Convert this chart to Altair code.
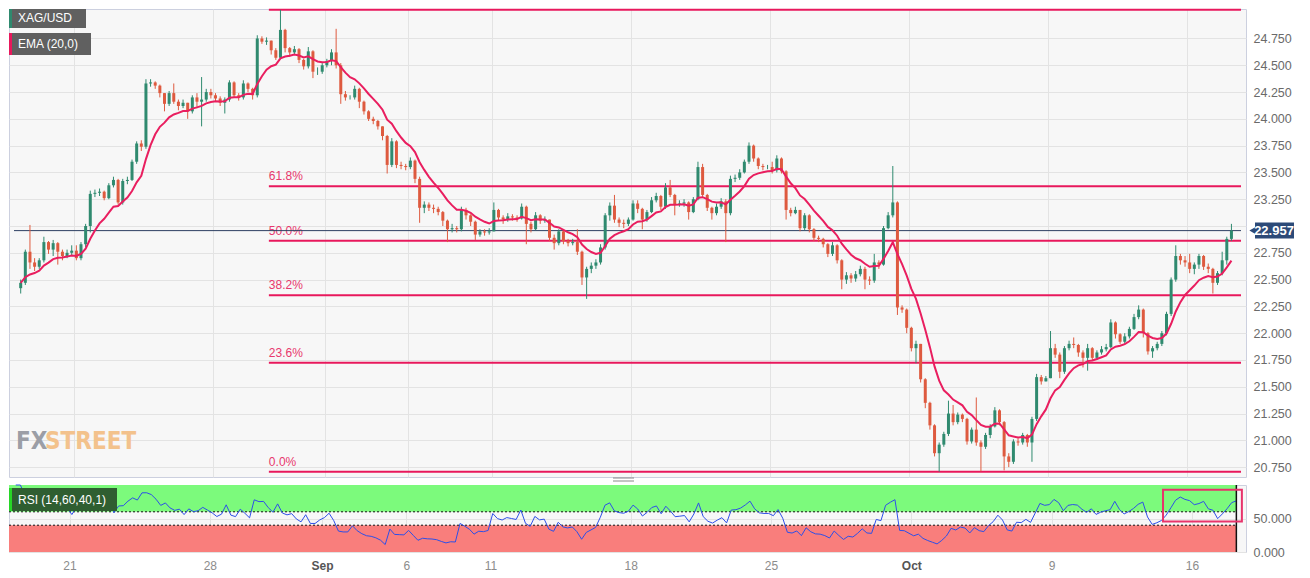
import altair as alt
import pandas as pd

# ---------------- data ----------------
trading_days = [
    "Aug 17", "Aug 18", "Aug 21", "Aug 22", "Aug 23", "Aug 24", "Aug 25",
    "Aug 28", "Aug 29", "Aug 30", "Aug 31", "Sep 1",
    "Sep 4", "Sep 5", "Sep 6", "Sep 7", "Sep 8",
    "Sep 11", "Sep 12", "Sep 13", "Sep 14", "Sep 15",
    "Sep 18", "Sep 19", "Sep 20", "Sep 21", "Sep 22",
    "Sep 25", "Sep 26", "Sep 27", "Sep 28", "Sep 29",
    "Oct 2", "Oct 3", "Oct 4", "Oct 5", "Oct 6",
    "Oct 9", "Oct 10", "Oct 11", "Oct 12", "Oct 13",
    "Oct 16", "Oct 17",
]
candles_per_day = [6] * 43 + [4]
first_open = 22.42

close_px = [
    22.47, 22.76, 22.66, 22.62, 22.68, 22.85,   # Aug 17
    22.78, 22.84, 22.76, 22.72, 22.75, 22.77,   # Aug 18
    22.70, 22.83, 23.00, 23.30, 23.31, 23.32,   # Aug 21
    23.26, 23.38, 23.43, 23.22, 23.42, 23.43,   # Aug 22
    23.60, 23.77, 23.74, 24.33, 24.34, 24.31,   # Aug 23
    24.24, 24.14, 24.24, 24.16, 24.12, 24.15,   # Aug 24
    24.07, 24.20, 24.16, 24.18, 24.25, 24.22,   # Aug 25
    24.19, 24.15, 24.18, 24.34, 24.22, 24.20,   # Aug 28
    24.33, 24.28, 24.22, 24.75, 24.72, 24.73,   # Aug 29
    24.64, 24.57, 24.83, 24.66, 24.62, 24.65,   # Aug 30
    24.55, 24.49, 24.63, 24.44, 24.44, 24.50,   # Aug 31
    24.54, 24.62, 24.50, 24.23, 24.20, 24.20,   # Sep 1
    24.28, 24.16, 24.07, 24.00, 23.98, 23.93,   # Sep 4
    23.84, 23.57, 23.79, 23.57, 23.56, 23.55,   # Sep 5
    23.61, 23.44, 23.17, 23.20, 23.17, 23.16,   # Sep 6
    23.13, 23.05, 22.97, 22.98, 22.97, 23.15,   # Sep 7
    23.10, 23.04, 22.92, 22.95, 22.94, 22.95,   # Sep 8
    23.15, 23.08, 23.06, 23.09, 23.08, 23.07,   # Sep 11
    23.18, 23.02, 22.97, 23.10, 23.05, 23.06,   # Sep 12
    22.89, 22.84, 22.95, 22.86, 22.84, 22.85,   # Sep 13
    22.76, 22.52, 22.60, 22.63, 22.66, 22.80,   # Sep 14
    23.10, 23.19, 23.06, 23.03, 23.02, 23.06,   # Sep 15
    23.21, 23.16, 23.06, 23.13, 23.24, 23.28,   # Sep 18
    23.18, 23.36, 23.29, 23.20, 23.21, 23.22,   # Sep 19
    23.13, 23.25, 23.55, 23.29, 23.17, 23.12,   # Sep 20
    23.18, 23.23, 23.12, 23.44, 23.45, 23.50,   # Sep 21
    23.60, 23.75, 23.63, 23.56, 23.55, 23.55,   # Sep 22
    23.52, 23.63, 23.51, 23.15, 23.12, 23.15,   # Sep 25
    22.98, 23.10, 22.97, 22.89, 22.88, 22.83,   # Sep 26
    22.74, 22.82, 22.68, 22.50, 22.54, 22.51,   # Sep 27
    22.55, 22.60, 22.50, 22.49, 22.66, 22.64,   # Sep 28
    22.98, 23.10, 23.22, 22.24, 22.22, 22.05,   # Sep 29
    21.86, 21.90, 21.57, 21.35, 21.14, 20.88,   # Oct 2
    20.96, 21.06, 21.25, 21.17, 21.24, 21.20,   # Oct 3
    20.99, 21.10, 20.98, 20.94, 21.05, 21.13,   # Oct 4
    21.28, 21.17, 20.85, 20.80, 20.99, 20.98,   # Oct 5
    21.05, 20.98, 21.20, 21.59, 21.55, 21.58,   # Oct 6
    21.86, 21.80, 21.64, 21.86, 21.90, 21.89,   # Oct 9
    21.82, 21.77, 21.86, 21.77, 21.82, 21.85,   # Oct 10
    21.87, 22.10, 21.99, 21.92, 21.97, 22.04,   # Oct 11
    22.15, 22.22, 22.00, 21.83, 21.86, 21.90,   # Oct 12
    22.00, 22.18, 22.50, 22.72, 22.68, 22.66,   # Oct 13
    22.60, 22.64, 22.72, 22.62, 22.60, 22.47,   # Oct 16
    22.56, 22.68, 22.88, 22.957,                # Oct 17
]
high_px = [
    22.50, 22.78, 23.01, 22.70, 22.70, 22.90,
    22.86, 22.87, 22.85, 22.78, 22.78, 22.82,
    22.82, 22.85, 23.02, 23.33, 23.34, 23.35,
    23.33, 23.40, 23.46, 23.44, 23.44, 23.46,
    23.62, 23.79, 23.80, 24.37, 24.37, 24.35,
    24.32, 24.24, 24.26, 24.33, 24.18, 24.18,
    24.15, 24.22, 24.24, 24.39, 24.28, 24.28,
    24.24, 24.21, 24.20, 24.36, 24.35, 24.24,
    24.36, 24.34, 24.29, 24.78, 24.77, 24.76,
    24.73, 24.66, 25.017, 24.84, 24.67, 24.68,
    24.66, 24.56, 24.67, 24.64, 24.48, 24.52,
    24.56, 24.65, 24.84, 24.52, 24.26, 24.22,
    24.31, 24.29, 24.17, 24.08, 24.02, 23.99,
    23.92, 23.85, 23.82, 23.80, 23.60, 23.58,
    23.64, 23.62, 23.46, 23.23, 23.22, 23.20,
    23.18, 23.14, 23.06, 23.02, 23.00, 23.18,
    23.17, 23.11, 23.05, 22.97, 22.97, 22.98,
    23.22, 23.16, 23.10, 23.12, 23.11, 23.10,
    23.21, 23.19, 23.04, 23.13, 23.11, 23.09,
    23.06, 22.92, 22.97, 22.96, 22.88, 22.88,
    22.97, 22.77, 22.62, 22.66, 22.69, 22.83,
    23.12, 23.22, 23.29, 23.08, 23.06, 23.08,
    23.24, 23.24, 23.17, 23.15, 23.27, 23.31,
    23.29, 23.40, 23.43, 23.30, 23.24, 23.25,
    23.23, 23.27, 23.60, 23.58, 23.30, 23.18,
    23.21, 23.26, 23.25, 23.47, 23.48, 23.53,
    23.62, 23.78, 23.76, 23.64, 23.58, 23.57,
    23.60, 23.66, 23.64, 23.52, 23.17, 23.18,
    23.15, 23.12, 23.11, 22.98, 22.91, 22.89,
    22.84, 22.85, 22.83, 22.69, 22.57, 22.56,
    22.58, 22.63, 22.62, 22.53, 22.74, 22.68,
    23.00, 23.13, 23.56, 23.23, 22.26, 22.23,
    22.06, 21.93, 21.90, 21.58, 21.36, 21.15,
    20.98, 21.08, 21.37, 21.33, 21.26, 21.25,
    21.21, 21.12, 21.40, 21.00, 21.07, 21.15,
    21.31, 21.29, 21.18, 20.88, 21.01, 21.02,
    21.07, 21.06, 21.22, 21.62, 21.61, 21.60,
    22.02, 21.90, 21.82, 21.88, 21.93, 21.96,
    21.90, 21.84, 21.90, 21.87, 21.84, 21.88,
    21.90, 22.13, 22.11, 22.00, 22.00, 22.06,
    22.18, 22.26, 22.23, 22.01, 21.88, 21.92,
    22.02, 22.20, 22.52, 22.82, 22.74, 22.72,
    22.74, 22.66, 22.74, 22.73, 22.65, 22.61,
    22.58, 22.76, 22.90, 23.02,
]
low_px = [
    22.37, 22.45, 22.60, 22.58, 22.60, 22.66,
    22.74, 22.72, 22.64, 22.68, 22.70, 22.72,
    22.68, 22.68, 22.80, 22.94, 23.27, 23.28,
    23.24, 23.25, 23.36, 23.20, 23.20, 23.39,
    23.42, 23.58, 23.70, 23.72, 24.30, 24.28,
    24.20, 24.07, 24.12, 24.14, 24.08, 24.10,
    24.00, 24.05, 24.10, 23.93, 24.16, 24.19,
    24.16, 24.12, 24.05, 24.16, 24.20, 24.17,
    24.18, 24.25, 24.18, 24.20, 24.70, 24.69,
    24.60, 24.55, 24.56, 24.62, 24.58, 24.60,
    24.52, 24.46, 24.47, 24.38, 24.41, 24.42,
    24.48, 24.50, 24.47, 24.14, 24.17, 24.18,
    24.18, 24.10, 24.04, 23.98, 23.95, 23.90,
    23.80, 23.49, 23.55, 23.54, 23.53, 23.52,
    23.53, 23.40, 23.03, 23.12, 23.14, 23.12,
    23.10, 23.00, 22.85, 22.94, 22.94, 22.95,
    23.06, 23.00, 22.87, 22.90, 22.91, 22.92,
    22.98, 23.05, 23.02, 23.04, 23.05, 23.04,
    23.06, 22.83, 22.94, 22.96, 23.02, 23.03,
    22.86, 22.78, 22.82, 22.83, 22.81, 22.82,
    22.73, 22.45, 22.32, 22.56, 22.60, 22.64,
    22.78, 23.05, 23.03, 22.99, 22.98, 23.00,
    23.05, 23.12, 22.97, 23.04, 23.12, 23.22,
    23.15, 23.16, 23.27, 23.10, 23.18, 23.18,
    23.06, 23.12, 23.24, 23.26, 23.14, 23.06,
    23.10, 23.16, 22.85, 23.10, 23.41, 23.43,
    23.49, 23.58, 23.60, 23.53, 23.52, 23.53,
    23.49, 23.50, 23.49, 23.06, 23.09, 23.11,
    22.95, 22.96, 22.94, 22.86, 22.85, 22.80,
    22.71, 22.72, 22.65, 22.41, 22.46, 22.47,
    22.48, 22.53, 22.41, 22.45, 22.47, 22.60,
    22.63, 22.97, 23.08, 22.17, 22.19, 22.00,
    21.83, 21.72, 21.54, 21.30, 21.10, 20.85,
    20.707, 20.94, 21.04, 21.14, 21.15, 21.17,
    20.96, 20.97, 20.95, 20.71, 20.92, 21.02,
    21.12, 21.14, 20.72, 20.75, 20.78, 20.95,
    20.96, 20.94, 20.80, 21.18, 21.52, 21.55,
    21.58, 21.77, 21.58, 21.62, 21.84, 21.86,
    21.78, 21.68, 21.65, 21.74, 21.75, 21.80,
    21.83, 21.86, 21.95, 21.90, 21.90, 21.95,
    22.03, 22.13, 21.96, 21.80, 21.77, 21.84,
    21.88, 21.98, 22.16, 22.48, 22.64, 22.62,
    22.56, 22.55, 22.60, 22.59, 22.56, 22.37,
    22.45, 22.54, 22.64, 22.86,
]

tick_days = [2, 7, 11, 14, 17, 22, 27, 32, 37, 42]
tick_text = ["21", "28", "Sep", "6", "11", "18", "25", "Oct", "9", "16"]
month_ticks = [11, 32]
price_ticks = [20.75, 21.0, 21.25, 21.5, 21.75, 22.0, 22.25, 22.5, 22.75,
               23.0, 23.25, 23.5, 23.75, 24.0, 24.25, 24.5, 24.75]
hidden_price_tick = 23.0   # covered by the last-price tag

fib_high = 25.017
fib_low = 20.707
fib_ratios = [0.0, 0.236, 0.382, 0.5, 0.618, 1.0]
fib_names = ["0.0%", "23.6%", "38.2%", "50.0%", "61.8%", ""]
fib_start_day = 9          # Aug 30, day of the swing high
last_price = 22.957
ema_span = 10              # EMA(20) of the 2h feed ~ 10 bars of 4h
rsi_period = 7             # RSI(14) of the 2h feed ~ 7 bars of 4h
rsi_upper, rsi_lower = 60, 40
rsi_box_t = [40.97, 43.78]
rsi_box_level = [45.5, 93]

# ---------------- styles ----------------
UP = "#2f8a6f"
DOWN = "#de5a3f"
PINK = "#e8185c"
FIBTXT = "#e8386d"
NAVY = "#2e3f62"
TAG = "#2c4a78"
FONT = "Liberation Sans, Arial, sans-serif"

T_MIN, T_MAX = -0.157, 43.927
W = 1237
H_MAIN = 468
H_RSI = 67

# ---------------- tables ----------------
ts = []
for i, n in enumerate(candles_per_day):
    for k in range(n):
        ts.append(i + (k + 0.5) / 6.0)
opens = [first_open] + close_px[:-1]
df = pd.DataFrame({"t": ts, "open": opens, "close": close_px,
                   "high": high_px, "low": low_px})
df["high"] = df[["high", "open", "close"]].max(axis=1)
df["low"] = df[["low", "open", "close"]].min(axis=1)
df["ema"] = df["close"].ewm(span=ema_span, adjust=False).mean()
delta = df["close"] - df["open"]
gain = delta.clip(lower=0).ewm(alpha=1.0 / rsi_period, adjust=False).mean()
loss = (-delta.clip(upper=0)).ewm(alpha=1.0 / rsi_period, adjust=False).mean()
df["r"] = 100 - 100 / (1 + gain / loss.where(loss > 0, 1e-9))
t_end = ts[-1]

fib_df = pd.DataFrame({
    "t": [fib_start_day] * len(fib_ratios),
    "t1": [T_MAX] * len(fib_ratios),
    "p": [fib_low + r * (fib_high - fib_low) for r in fib_ratios],
    "label": fib_names,
})
fib_lab_df = fib_df[fib_df["label"] != ""]
last_df = pd.DataFrame({"t": [T_MIN], "t1": [T_MAX], "p": [last_price],
                        "txt": [f"{last_price:.3f}"]})
one = pd.DataFrame({"a": [0]})

xs = alt.Scale(domain=[T_MIN, T_MAX], nice=False, zero=False)
ys = alt.Scale(domain=[20.658, 25.025], nice=False, zero=False)
rs = alt.Scale(domain=[0, 100], nice=False, zero=False)

x_main_axis = alt.Axis(values=tick_days, labels=False, ticks=False, domain=False,
                       grid=True, gridColor="#e3e3e3", title=None)
y_main_axis = alt.Axis(orient="right", values=price_ticks, ticks=False, domain=False,
                       labelExpr=f"datum.value == {hidden_price_tick} ? '' : format(datum.value, '.3f')",
                       grid=True, gridColor="#e3e3e3",
                       labelColor="#6a6a6a", labelFontSize=12.5, labelFont=FONT,
                       labelPadding=7, title=None)

X = lambda f="t": alt.X(f + ":Q", scale=xs, axis=x_main_axis)
Y = lambda f: alt.Y(f + ":Q", scale=ys, axis=y_main_axis)

candle_color = alt.condition("datum.close >= datum.open", alt.value(UP), alt.value(DOWN))

fib_lines = alt.Chart(fib_df).mark_rule(color=PINK, strokeWidth=2).encode(
    x=X(), x2="t1:Q", y=Y("p"))
fib_text = alt.Chart(fib_lab_df).mark_text(align="left", baseline="bottom", dy=-3,
                                           fontSize=12, font=FONT, color=FIBTXT).encode(
    x=X(), y=Y("p"), text="label:N")
last_rule = alt.Chart(last_df).mark_rule(color=NAVY, strokeWidth=1).encode(
    x=X(), x2="t1:Q", y=Y("p"))
wicks = alt.Chart(df).mark_rule(strokeWidth=1).encode(
    x=X(), y=Y("low"), y2="high:Q", color=candle_color)
bodies = alt.Chart(df).mark_bar(size=3).encode(
    x=X(), y=Y("open"), y2="close:Q", color=candle_color)
ema_line = alt.Chart(df).mark_line(color="#e91e5f", strokeWidth=2).encode(
    x=X(), y=Y("ema"))

tag_rect = alt.Chart(last_df).mark_rect(color=TAG, yOffset=-8, y2Offset=8).encode(
    x=alt.value(1246), x2=alt.value(1285), y=Y("p"), y2="p:Q")
tag_tri = alt.Chart(last_df).mark_point(shape="triangle-left", filled=True, size=70,
                                        color=TAG, opacity=1).encode(
    x=alt.value(1244), y=Y("p"))
tag_txt = alt.Chart(last_df).mark_text(color="white", fontWeight="bold", fontSize=13,
                                       font=FONT, align="center", baseline="middle").encode(
    x=alt.value(1265), y=Y("p"), text="txt:N")


def box(x1, x2, y1, y2, color):
    return alt.Chart(one).mark_rect(color=color).encode(
        x=alt.value(x1), x2=alt.value(x2), y=alt.value(y1), y2=alt.value(y2))


def label(x, y, txt, size=12, color="white", weight="normal", font=FONT, opacity=1):
    return alt.Chart(one).mark_text(align="left", baseline="middle", fontSize=size,
                                    color=color, fontWeight=weight, font=font,
                                    opacity=opacity).encode(
        x=alt.value(x), y=alt.value(y), text=alt.value(txt))


legend_layers = [
    box(0, 77, 0, 19, "#606060"), box(0, 3, 0, 19, UP),
    label(9, 9, "XAG/USD"),
    box(0, 82, 24, 46, "#606060"), box(0, 3, 24, 46, PINK),
    label(9, 35, "EMA (20,0)"),
]
wm_font = "DejaVu Sans Condensed, sans-serif"
watermark = [
    label(7, 433, "FX", size=24, color="#9b9ea6", weight="bold", font=wm_font),
    label(36, 433, "STREET", size=24, color="#f3c28c", weight="bold", font=wm_font),
]

handle = [
    alt.Chart(one).mark_rule(color="#8a8a8a", strokeWidth=1).encode(
        x=alt.value(604), x2=alt.value(625), y=alt.value(469)),
    alt.Chart(one).mark_rule(color="#8a8a8a", strokeWidth=1).encode(
        x=alt.value(604), x2=alt.value(625), y=alt.value(472)),
]

main = alt.layer(
    fib_lines, fib_text, last_rule, wicks, bodies, ema_line,
    *watermark, tag_rect, tag_tri, tag_txt, *legend_layers, *handle,
).properties(width=W, height=H_MAIN)

# ---------------- RSI panel ----------------
label_expr = "".join(f"datum.value == {d} ? '{s}' : " for d, s in zip(tick_days, tick_text)) + "''"
month_test = " || ".join(f"datum.value == {m}" for m in month_ticks)
x_rsi_axis = alt.Axis(values=tick_days, labelExpr=label_expr, ticks=False, domain=False,
                      grid=True, gridColor="#e3e3e3", labelPadding=8, labelFontSize=12,
                      labelFont=FONT,
                      labelColor={"condition": {"test": month_test, "value": "#555555"},
                                  "value": "#8c8c8c"},
                      labelFontWeight={"condition": {"test": month_test, "value": "bold"},
                                       "value": "normal"},
                      title=None)
y_rsi_axis = alt.Axis(orient="right", values=[0, 50], format=".3f", ticks=False,
                      domain=False, grid=True, gridColor="#e3e3e3", labelColor="#6a6a6a",
                      labelFontSize=12.5, labelFont=FONT, labelPadding=7, title=None)
XR = lambda f="t": alt.X(f + ":Q", scale=xs, axis=x_rsi_axis)
YR = lambda f="r": alt.Y(f + ":Q", scale=rs, axis=y_rsi_axis)

zones = pd.DataFrame({"t": [T_MIN, T_MIN], "t1": [t_end, t_end],
                      "r": [rsi_upper, 0], "r2": [100, rsi_lower],
                      "z": ["hi", "lo"]})
levels = pd.DataFrame({"t": [T_MIN, T_MIN], "t1": [t_end, t_end],
                       "r": [rsi_upper, rsi_lower]})
end_df = pd.DataFrame({"t": [t_end], "r": [0], "r2": [100]})
rbox = pd.DataFrame({"t": [rsi_box_t[0]], "t1": [rsi_box_t[1]],
                     "r": [rsi_box_level[0]], "r2": [rsi_box_level[1]]})

zone_rect = alt.Chart(zones).mark_rect().encode(
    x=XR(), x2="t1:Q", y=YR(), y2="r2:Q",
    color=alt.Color("z:N", scale=alt.Scale(domain=["hi", "lo"],
                                           range=["#7cfa7c", "#f97e7c"]), legend=None))
level_rules = alt.Chart(levels).mark_rule(color="#111111", strokeWidth=1,
                                          strokeDash=[2, 2]).encode(
    x=XR(), x2="t1:Q", y=YR())
rsi_line = alt.Chart(df).mark_line(color="#2d4fe8", strokeWidth=1).encode(x=XR(), y=YR())
end_rule = alt.Chart(end_df).mark_rule(color="#111111", strokeWidth=1.5).encode(
    x=XR(), y=YR(), y2="r2:Q")
pink_box = alt.Chart(rbox).mark_rect(fillOpacity=0, stroke="#e8336b", strokeWidth=2).encode(
    x=XR(), x2="t1:Q", y=YR(), y2="r2:Q")

rsi_legend = [
    box(0, 108, 3, 26, "#2f5e31"), box(0, 3, 3, 26, "#27d627"),
    label(9, 15, "RSI (14,60,40,1)"),
]

rsi = alt.layer(zone_rect, level_rules, rsi_line, end_rule, pink_box,
                *rsi_legend).properties(width=W, height=H_RSI)

chart = alt.vconcat(main, rsi, spacing=8, bounds="flush").properties(
    padding={"left": 0, "top": 0, "right": 0, "bottom": 0},
    background="white",
).configure_view(fill="#f7f7f7", stroke="#ccd0df", strokeWidth=1)

chart.save("out.html", embed_options={"renderer": "svg", "actions": False})
